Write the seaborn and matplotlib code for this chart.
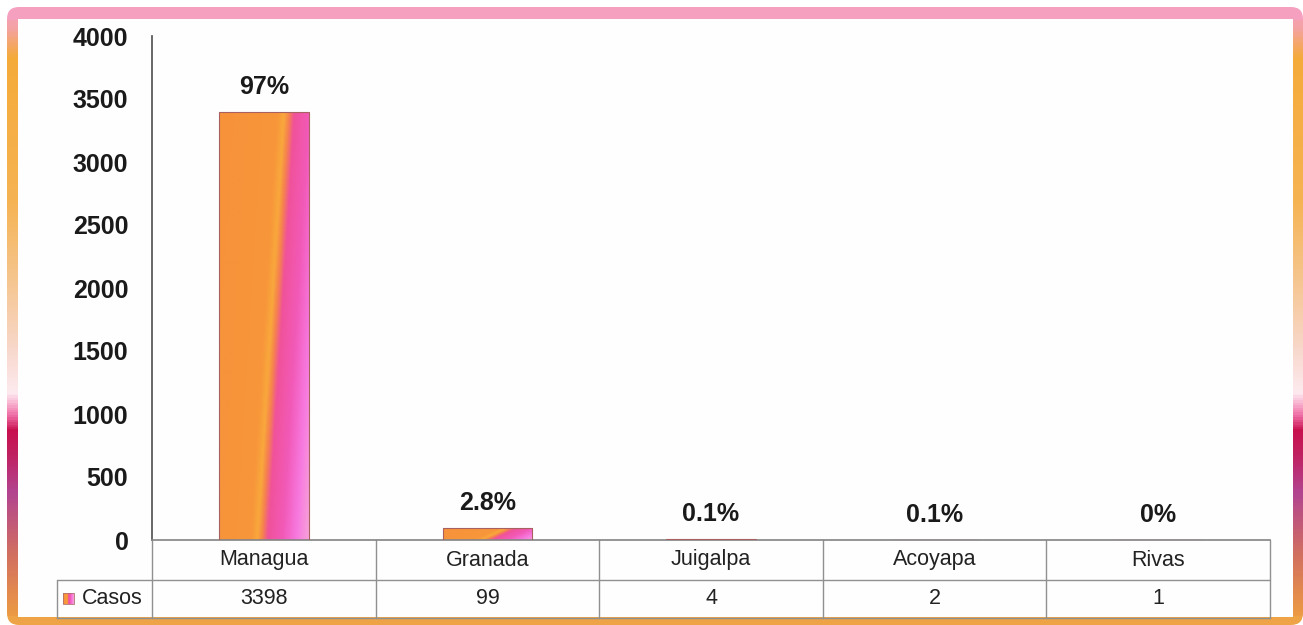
import numpy as np
import pandas as pd
import matplotlib.pyplot as plt
import seaborn as sns
from matplotlib.colors import LinearSegmentedColormap
from matplotlib.patches import FancyBboxPatch, Rectangle

# datos del grafico
ciudades = ["Managua", "Granada", "Juigalpa", "Acoyapa", "Rivas"]
casos = [3398, 99, 4, 2, 1]
porcentajes = ["97%", "2.8%", "0.1%", "0.1%", "0%"]
serie = "Casos"
ticks_y = [0, 500, 1000, 1500, 2000, 2500, 3000, 3500, 4000]

W, H = 1303, 625

sns.set_theme(style="white")
plt.rcParams["font.family"] = ["Liberation Sans", "DejaVu Sans"]

fig = plt.figure(figsize=(W / 100, H / 100), dpi=100)
fig.patch.set_facecolor("white")

# ---- marco con degradado ----
fondo = fig.add_axes([0, 0, 1, 1])
fondo.set_xlim(0, W)
fondo.set_ylim(H, 0)
fondo.axis("off")

cmap_lado = LinearSegmentedColormap.from_list("lado", [
    (0.00, "#f6a0c0"), (0.04, "#f4a2a8"), (0.09, "#f5ab3a"), (0.32, "#f5b352"),
    (0.45, "#f6c690"), (0.56, "#f8d8cc"), (0.63, "#fdeaf0"), (0.665, "#f070a8"),
    (0.69, "#c8104e"), (0.73, "#c02262"), (0.79, "#b24590"), (0.89, "#d27060"),
    (1.00, "#f0a040"),
])
filas = np.linspace(0, 1, H)
img = cmap_lado(filas)[:, None, :] * np.ones((1, W, 1))
img[:20, :, :] = (np.array([246, 160, 192, 255]) / 255)
img[616:, :, :] = (np.array([238, 164, 70, 255]) / 255)
marco = fondo.imshow(img, extent=[0, W, H, 0], aspect="auto", zorder=0)
borde = FancyBboxPatch((7, 7), W - 7, H - 7, boxstyle="round,pad=0,rounding_size=12",
                       transform=fondo.transData, facecolor="none", edgecolor="none")
fondo.add_patch(borde)
marco.set_clip_path(borde)
fondo.add_patch(Rectangle((18, 19), 1275, 598, facecolor="#fefefe", edgecolor="none", zorder=1))

# ---- grafico de barras ----
ax = fig.add_axes([152 / W, (H - 540) / H, 1118 / W, 504 / H])
ax.set_facecolor("none")
df = pd.DataFrame({"Ciudad": ciudades, serie: casos})
sns.barplot(data=df, x="Ciudad", y=serie, ax=ax, width=0.4, color="#f7923a",
            edgecolor="#a86060", linewidth=0.8)

# degradado naranja-rosa dentro de cada barra
cmap_barra = LinearSegmentedColormap.from_list("barra", [
    (0.00, "#f7923a"), (0.50, "#f7963a"), (0.56, "#f9a83c"), (0.60, "#f6844c"),
    (0.65, "#f0529a"), (0.78, "#f25ab8"), (0.90, "#f77ae0"), (1.00, "#f8a0d8"),
])
u = np.linspace(0, 1, 80)[None, :]
v = np.linspace(1, 0, 300)[:, None]
t = (u - 0.3 * v + 0.3) / 1.3
grad = cmap_barra(t)
for barra in ax.patches:
    x0, w, h = barra.get_x(), barra.get_width(), barra.get_height()
    im = ax.imshow(grad, extent=[x0, x0 + w, 0, h], aspect="auto", zorder=2)
    im.set_clip_path(barra)
    barra.set_facecolor("none")
    barra.set_zorder(3)

ax.set_xlim(-0.5, len(ciudades) - 0.5)
ax.set_ylim(0, 4000)
ax.set_yticks(ticks_y)
ax.set_yticklabels([str(t) for t in ticks_y], fontsize=18, fontweight="bold", color="#1a1a1a")
ax.set_xticks(range(len(ciudades)))
ax.set_xticklabels([])
ax.tick_params(axis="both", length=0)
ax.tick_params(axis="y", pad=17)
ax.set_xlabel("")
ax.set_ylabel("")
for lado in ["top", "right"]:
    ax.spines[lado].set_visible(False)
ax.spines["left"].set_color("#555555")
ax.spines["bottom"].set_color("#888888")

for i, (val, p) in enumerate(zip(casos, porcentajes)):
    ax.annotate(p, (i, val), xytext=(0, 18), textcoords="offset points",
                ha="center", va="center", fontsize=18, fontweight="bold", color="#1a1a1a")

# ---- tabla de datos ----
n = len(ciudades)
f1 = -40 / 504
f2 = -78 / 504
izq = -95 / 1118
gris = "#909090"
kw = dict(transform=ax.transAxes, clip_on=False, color=gris, lw=1)
ax.plot([izq, 1], [f1, f1], **kw)
ax.plot([izq, 1], [f2, f2], **kw)
for i in range(n + 1):
    ax.plot([i / n, i / n], [0, f2], **kw)
ax.plot([izq, izq], [f1, f2], **kw)

for i, (c, val) in enumerate(zip(ciudades, casos)):
    ax.text((i + 0.5) / n, f1 / 2, c, transform=ax.transAxes, ha="center", va="center",
            fontsize=15.5, color="#222222")
    ax.text((i + 0.5) / n, (f1 + f2) / 2, str(val), transform=ax.transAxes, ha="center",
            va="center", fontsize=15.5, color="#222222")

# clave de la serie (cuadrito con degradado)
clave = fondo.imshow(cmap_barra(np.linspace(0.3, 1, 20))[None, :, :],
                     extent=[63, 74, 604, 593], aspect="auto", zorder=3)
fondo.add_patch(Rectangle((63, 593), 11, 11, facecolor="none", edgecolor="#b07070",
                          lw=0.6, zorder=4))
ax.text(izq + 25 / 1118, (f1 + f2) / 2, serie, transform=ax.transAxes, ha="left", va="center",
        fontsize=15.5, color="#222222")

fig.savefig("out.png", dpi=100)
